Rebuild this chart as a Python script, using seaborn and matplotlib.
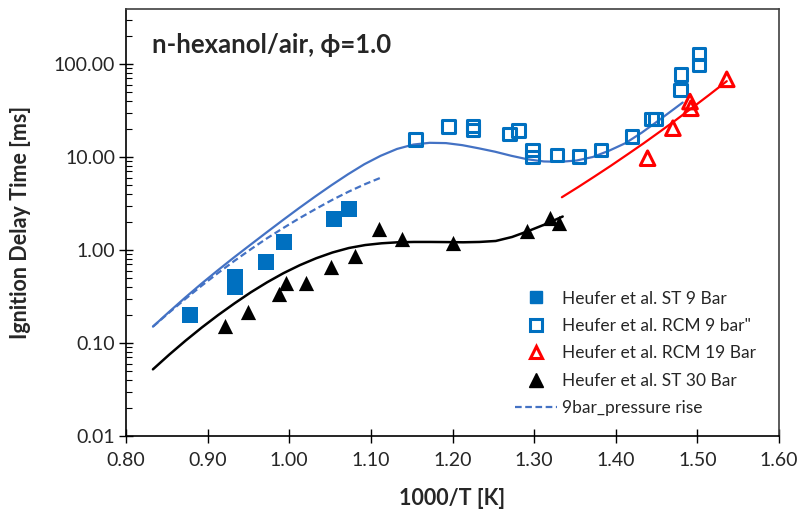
import numpy as np
import pandas as pd
import seaborn as sns
import matplotlib.pyplot as plt
from matplotlib.lines import Line2D
from matplotlib.ticker import FixedLocator, LogLocator, NullFormatter, FuncFormatter

# Shock tube, 9 bar
st9_x = [0.878, 0.934, 0.934, 0.972, 0.994, 1.055, 1.073]
st9_y = [0.20, 0.51, 0.40, 0.75, 1.22, 2.14, 2.79]

# RCM, 9 bar
rcm9_x = [1.155, 1.195, 1.225, 1.225, 1.270, 1.281, 1.298, 1.298, 1.328, 1.355,
          1.382, 1.420, 1.444, 1.449, 1.479, 1.480, 1.502, 1.502]
rcm9_y = [15.5, 21.2, 21.5, 19.5, 17.7, 19.2, 11.9, 10.0, 10.5, 10.1,
          11.9, 16.5, 25.6, 25.6, 52.5, 77.4, 97.5, 128.0]

# RCM, 19 bar
rcm19_x = [1.439, 1.470, 1.491, 1.492, 1.536]
rcm19_y = [9.7, 20.4, 39.4, 33.4, 68.4]

# Shock tube, 30 bar
st30_x = [0.921, 0.949, 0.987, 0.996, 1.020, 1.051, 1.081, 1.110, 1.138, 1.201,
          1.291, 1.319, 1.330]
st30_y = [0.152, 0.217, 0.334, 0.445, 0.44, 0.65, 0.86, 1.67, 1.30, 1.18,
          1.61, 2.19, 1.94]

# Model: 9 bar
mod9_x = [0.833, 0.852, 0.872, 0.892, 0.912, 0.932, 0.952, 0.972, 0.992, 1.012,
          1.032, 1.052, 1.072, 1.092, 1.112, 1.132, 1.152, 1.172, 1.192, 1.212,
          1.232, 1.252, 1.272, 1.292, 1.312, 1.332, 1.352, 1.372, 1.392, 1.412,
          1.432, 1.452, 1.472, 1.482]
mod9_y = [0.150, 0.213, 0.305, 0.431, 0.600, 0.828, 1.13, 1.54, 2.09, 2.82,
          3.77, 4.99, 6.52, 8.36, 10.3, 12.2, 13.6, 14.2, 14.1, 13.4,
          12.4, 11.4, 10.3, 9.44, 8.95, 8.87, 9.16, 10.0, 11.7, 14.1,
          18.3, 24.5, 33.1, 38.5]

# Model: 9 bar with pressure rise
mod9p_x = [0.833, 0.853, 0.873, 0.893, 0.913, 0.933, 0.953, 0.973, 0.993, 1.013,
           1.033, 1.053, 1.073, 1.093, 1.113]
mod9p_y = [0.150, 0.213, 0.299, 0.415, 0.568, 0.766, 1.02, 1.34, 1.73, 2.21,
           2.78, 3.47, 4.25, 5.11, 6.03]

# Model: 30 bar
mod30_x = [0.833, 0.853, 0.873, 0.893, 0.913, 0.933, 0.953, 0.973, 0.993, 1.013,
           1.033, 1.053, 1.073, 1.093, 1.113, 1.133, 1.153, 1.173, 1.193, 1.213,
           1.233, 1.253, 1.273, 1.293, 1.313, 1.335]
mod30_y = [0.0521, 0.0750, 0.106, 0.147, 0.200, 0.267, 0.351, 0.450, 0.564, 0.687,
           0.815, 0.940, 1.05, 1.13, 1.18, 1.21, 1.22, 1.22, 1.216, 1.21,
           1.22, 1.25, 1.38, 1.60, 1.88, 2.29]

# Model: 19 bar
mod19_x = [1.334, 1.354, 1.374, 1.394, 1.414, 1.434, 1.454, 1.474, 1.494, 1.514, 1.536]
mod19_y = [3.69, 4.75, 6.17, 8.05, 10.6, 14.0, 18.7, 25.1, 34.0, 46.2, 65.3]

x_ticks = [0.80, 0.90, 1.00, 1.10, 1.20, 1.30, 1.40, 1.50, 1.60]
y_ticks = [0.01, 0.1, 1, 10, 100]

labels = ["Heufer et al. ST 9 Bar", "Heufer et al. RCM 9 bar\"",
          "Heufer et al. RCM 19 Bar", "Heufer et al. ST 30 Bar",
          "9bar_pressure rise"]

C_SQ = "#0070C0"
C_LINE = "#4472C4"
C_RED = "#FF0000"

sns.set_theme(style="white")
plt.rcParams['font.family'] = ['Lato', 'DejaVu Sans']

fig = plt.figure(figsize=(8.05, 5.18), dpi=100)
ax = fig.add_axes([126 / 805, 82 / 518, 653 / 805, 427 / 518])

# model curves
sns.lineplot(x=mod9_x, y=mod9_y, ax=ax, color=C_LINE, lw=1.6,
             sort=False, estimator=None)
sns.lineplot(x=mod9p_x, y=mod9p_y, ax=ax, color=C_LINE, lw=1.6,
             linestyle=(0, (3, 1.6)), sort=False, estimator=None)
sns.lineplot(x=mod30_x, y=mod30_y, ax=ax, color="black", lw=1.8,
             sort=False, estimator=None)
sns.lineplot(x=mod19_x, y=mod19_y, ax=ax, color=C_RED, lw=1.6,
             sort=False, estimator=None)

# measurements
sns.scatterplot(x=st9_x, y=st9_y, ax=ax, marker="s", s=120, color=C_SQ,
                linewidth=0, zorder=3)
sns.scatterplot(x=rcm9_x, y=rcm9_y, ax=ax, marker="s", s=85, color=C_SQ,
                facecolor="none", edgecolor=C_SQ, linewidth=2.2, zorder=3)
sns.scatterplot(x=rcm19_x, y=rcm19_y, ax=ax, marker="^", s=110, color=C_RED,
                facecolor="none", edgecolor=C_RED, linewidth=2.2, zorder=3)
sns.scatterplot(x=st30_x, y=st30_y, ax=ax, marker="^", s=120, color="black",
                linewidth=0, zorder=3)

ax.set_yscale("log")
ax.set_xlim(0.80, 1.60)
ax.set_ylim(0.01, 390)

ax.xaxis.set_major_locator(FixedLocator(x_ticks))
ax.xaxis.set_major_formatter(FuncFormatter(lambda v, p: f"{v:.2f}"))
ax.yaxis.set_major_locator(FixedLocator(y_ticks))
ax.yaxis.set_major_formatter(FuncFormatter(lambda v, p: f"{v:.2f}"))
ax.yaxis.set_minor_locator(LogLocator(base=10, subs=np.arange(2, 10), numticks=20))
ax.yaxis.set_minor_formatter(NullFormatter())

ax.tick_params(axis="both", which="major", direction="inout", length=9.5,
               width=1.0, color="black", labelsize=14, pad=3,
               bottom=True, left=True, top=False, right=False)
ax.tick_params(axis="x", which="major", pad=6.5)
ax.tick_params(axis="y", which="minor", direction="in", length=4.3,
               width=0.8, color="black", left=True, right=False)

for side in ["left", "bottom"]:
    ax.spines[side].set_color("black")
    ax.spines[side].set_linewidth(1.2)
for side in ["top", "right"]:
    ax.spines[side].set_color("#404040")
    ax.spines[side].set_linewidth(1.2)

ax.set_xlabel("1000/T [K]", fontsize=15.5, fontweight="bold")
ax.set_ylabel("Ignition Delay Time [ms]", fontsize=15.5, fontweight="bold")
ax.xaxis.set_label_coords(0.5, (436 - 488) / 427)
ax.yaxis.set_label_coords((31 - 126) / 653, 0.5)

fig.text(152 / 805, 1 - 45 / 518, "n-hexanol/air, ϕ=1.0", fontsize=18.5,
         fontweight="bold", ha="left", va="center")

handles = [
    Line2D([], [], ls="none", marker="s", ms=9, mfc=C_SQ, mec=C_SQ),
    Line2D([], [], ls="none", marker="s", ms=8, mfc="none", mec=C_SQ, mew=2.2),
    Line2D([], [], ls="none", marker="^", ms=9, mfc="none", mec=C_RED, mew=2.2),
    Line2D([], [], ls="none", marker="^", ms=9.5, mfc="black", mec="black"),
    Line2D([], [], color=C_LINE, lw=1.6, ls=(0, (3, 1.6))),
]
ax.legend(handles, labels, loc="upper left",
          bbox_to_anchor=(515 / 805, 1 - 290.5 / 518),
          bbox_transform=fig.transFigure, frameon=False, fontsize=12.5,
          handlelength=2.42, handletextpad=0.29, labelspacing=0.66,
          borderpad=0, borderaxespad=0)

fig.savefig("out.png", dpi=100)
